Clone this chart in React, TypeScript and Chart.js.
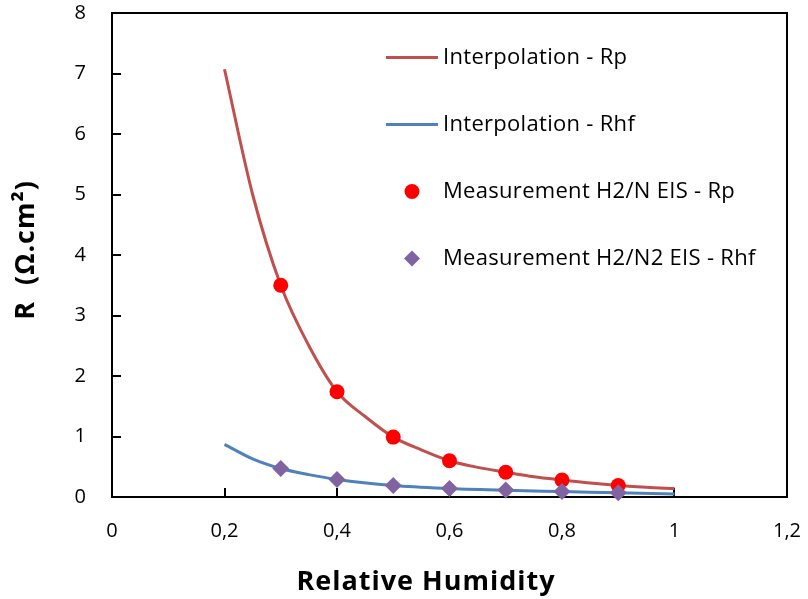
import React, { useEffect, useRef } from 'react';
import { Chart, registerables } from 'chart.js';

Chart.register(...registerables);

const xTickLabels = ['0', '0,2', '0,4', '0,6', '0,8', '1', '1,2'];
const yTickLabels = ['0', '1', '2', '3', '4', '5', '6', '7', '8'];

const measX = [0.3, 0.4, 0.5, 0.6, 0.7, 0.8, 0.9];
const measRp = [3.5, 1.74, 0.99, 0.6, 0.41, 0.28, 0.19];
const measRhf = [0.47, 0.29, 0.19, 0.14, 0.115, 0.09, 0.07];

const interpRpX = [0.2, 0.25, 0.3, 0.35, 0.4, 0.45, 0.5, 0.55, 0.6, 0.65, 0.7, 0.75, 0.8, 0.85, 0.9, 0.95, 1.0];
const interpRp = [7.07, 5.0, 3.5, 2.5, 1.74, 1.33, 0.99, 0.78, 0.6, 0.49, 0.41, 0.335, 0.28, 0.23, 0.19, 0.16, 0.14];
const interpRhfX = [0.2, 0.25, 0.3, 0.35, 0.4, 0.5, 0.6, 0.7, 0.8, 0.9, 1.0];
const interpRhf = [0.87, 0.63, 0.47, 0.37, 0.29, 0.19, 0.14, 0.11, 0.09, 0.07, 0.05];

const legendLabels = [
  'Interpolation - Rp',
  'Interpolation - Rhf',
  'Measurement H2/N EIS - Rp',
  'Measurement H2/N2 EIS - Rhf',
];

const xTitle = 'Relative Humidity';
const yTitle = 'R  (Ω.cm²)';

const FONT = '"Open Sans", Lato, sans-serif';

const toPts = (xs: number[], ys: number[]) => xs.map((x, i) => ({ x, y: ys[i] }));

const framePlugin = {
  id: 'frame',
  beforeDatasetsDraw(chart: any) {
    const { ctx, chartArea, scales } = chart;
    const { left, right, top, bottom } = chartArea;
    ctx.save();
    ctx.strokeStyle = '#000';
    ctx.lineWidth = 2;
    ctx.strokeRect(left, top, right - left, bottom - top);
    ctx.beginPath();
    scales.x.ticks.forEach((t: any) => {
      const px = Math.round(scales.x.getPixelForValue(t.value));
      ctx.moveTo(px, bottom);
      ctx.lineTo(px, bottom - 9);
    });
    scales.y.ticks.forEach((t: any) => {
      const py = Math.round(scales.y.getPixelForValue(t.value));
      ctx.moveTo(left, py);
      ctx.lineTo(left + 9, py);
    });
    ctx.stroke();
    ctx.restore();
  },
};

const titlesPlugin = {
  id: 'axisTitles',
  afterDraw(chart: any) {
    const { ctx, chartArea } = chart;
    ctx.save();
    ctx.fillStyle = '#000';
    ctx.font = `bold 27px ${FONT}`;
    (ctx as any).letterSpacing = '1px';
    ctx.textAlign = 'center';
    ctx.textBaseline = 'alphabetic';
    ctx.fillText(xTitle, chartArea.left + 314, 590);
    ctx.translate(34, chartArea.top + 237);
    ctx.rotate(-Math.PI / 2);
    ctx.fillText(yTitle, 0, 0);
    ctx.restore();
  },
};

const legendPlugin = {
  id: 'customLegend',
  afterDraw(chart: any) {
    const { ctx, chartArea } = chart;
    const ds = chart.data.datasets;
    // legend order: Rp line, Rhf line, Rp markers, Rhf markers
    const order = [2, 3, 1, 0];
    const x0 = chartArea.left + 274;
    const y0 = chartArea.top + 44.5;
    const step = 67;
    ctx.save();
    ctx.font = `22px ${FONT}`;
    (ctx as any).letterSpacing = '0.3px';
    ctx.textBaseline = 'middle';
    ctx.textAlign = 'left';
    order.forEach((di, i) => {
      const d = ds[di];
      const y = y0 + i * step;
      if (d.showLine) {
        ctx.strokeStyle = d.borderColor;
        ctx.lineWidth = 3;
        ctx.beginPath();
        ctx.moveTo(x0, y);
        ctx.lineTo(x0 + 52, y);
        ctx.stroke();
      } else {
        ctx.fillStyle = d.backgroundColor;
        ctx.beginPath();
        const cx = x0 + 26;
        if (d.pointStyle === 'rectRot') {
          const r = 8;
          ctx.moveTo(cx - r, y);
          ctx.lineTo(cx, y - r);
          ctx.lineTo(cx + r, y);
          ctx.lineTo(cx, y + r);
          ctx.closePath();
        } else {
          ctx.arc(cx, y, 7.5, 0, Math.PI * 2);
        }
        ctx.fill();
      }
      ctx.fillStyle = '#000';
      ctx.fillText(legendLabels[i], x0 + 57, y);
    });
    ctx.restore();
  },
};

export default function App() {
  const ref = useRef<HTMLCanvasElement>(null);
  useEffect(() => {
    if (!ref.current) return;
    const chart = new Chart(ref.current, {
      type: 'scatter',
      data: {
        datasets: [
          {
            label: legendLabels[3],
            data: toPts(measX, measRhf),
            backgroundColor: '#8064A2',
            borderColor: '#8064A2',
            pointStyle: 'rectRot',
            pointRadius: 8.5,
            pointBorderWidth: 0,
            showLine: false,
            clip: false,
          },
          {
            label: legendLabels[2],
            data: toPts(measX, measRp),
            backgroundColor: '#FF0000',
            borderColor: '#FF0000',
            pointStyle: 'circle',
            pointRadius: 7.5,
            pointBorderWidth: 0,
            showLine: false,
            clip: false,
          },
          {
            label: legendLabels[0],
            data: toPts(interpRpX, interpRp),
            borderColor: '#C0504D',
            backgroundColor: '#C0504D',
            borderWidth: 3,
            pointRadius: 0,
            showLine: true,
            cubicInterpolationMode: 'monotone',
            clip: false,
          },
          {
            label: legendLabels[1],
            data: toPts(interpRhfX, interpRhf),
            borderColor: '#4F81BD',
            backgroundColor: '#4F81BD',
            borderWidth: 3,
            pointRadius: 0,
            showLine: true,
            cubicInterpolationMode: 'monotone',
            clip: false,
          },
        ],
      } as any,
      options: {
        responsive: false,
        animation: false,
        layout: { padding: { top: 13, right: 21, left: 0, bottom: 0 } },
        plugins: { legend: { display: false }, tooltip: { enabled: false } },
        scales: {
          x: {
            type: 'linear',
            min: 0,
            max: 1.2,
            grid: { display: false, drawTicks: false },
            border: { display: false },
            ticks: {
              stepSize: 0.2,
              color: '#000',
              padding: 22,
              maxRotation: 0,
              font: { family: FONT, size: 20 },
              callback: (_v: any, i: number) => xTickLabels[i],
            },
            title: { display: false },
            afterFit: (s: any) => {
              s.height = 102;
              s.paddingLeft = 0;
              s.paddingRight = 0;
            },
          },
          y: {
            type: 'linear',
            min: 0,
            max: 8,
            grid: { display: false, drawTicks: false },
            border: { display: false },
            ticks: {
              stepSize: 1,
              color: '#000',
              padding: 26,
              font: { family: FONT, size: 20 },
              callback: (_v: any, i: number) => yTickLabels[i],
            },
            title: { display: false },
            afterFit: (s: any) => {
              s.width = 112;
              s.paddingTop = 0;
              s.paddingBottom = 0;
            },
          },
        },
      } as any,
      plugins: [framePlugin, titlesPlugin, legendPlugin],
    });
    return () => chart.destroy();
  }, []);
  return (
    <div style={{ position: 'absolute', left: 0, top: 0, width: 808, height: 599 }}>
      <canvas ref={ref} width={808} height={599} style={{ display: 'block' }} />
    </div>
  );
}
